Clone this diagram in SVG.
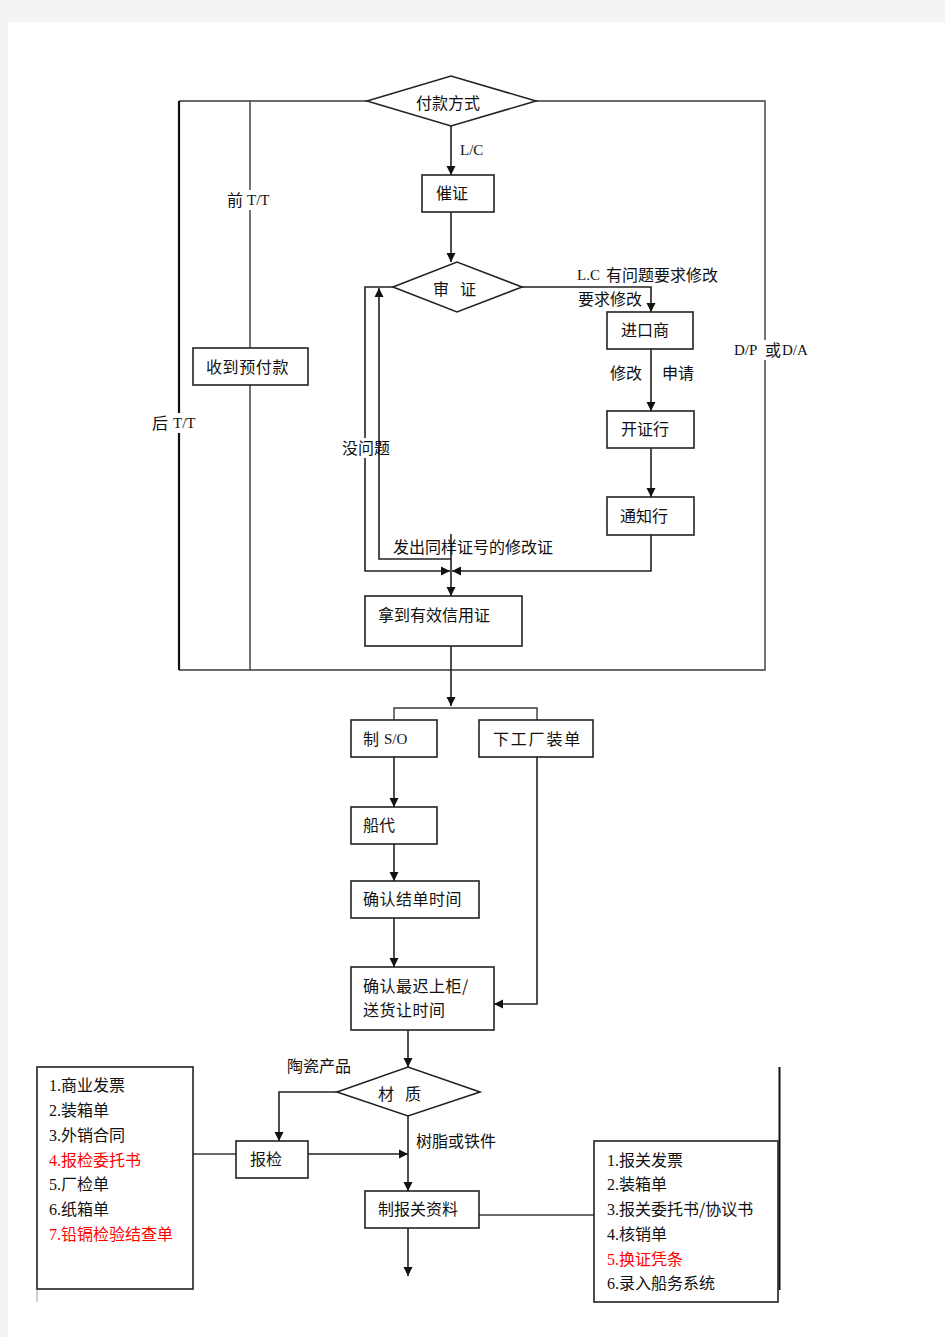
<svg xmlns="http://www.w3.org/2000/svg" width="945" height="1337" viewBox="0 0 945 1337">
<defs>
<marker id="arr" viewBox="0 0 10 10" refX="10" refY="5" markerWidth="9" markerHeight="10" markerUnits="userSpaceOnUse" orient="auto">
<path d="M0,0 L10,5 L0,10 z" fill="#111"/>
</marker>
<style>
.ln{fill:none;stroke:#3a3a3a;stroke-width:1.4}
.la{fill:none;stroke:#222;stroke-width:1.6;marker-end:url(#arr)}
.bx{fill:#fff;stroke:#222;stroke-width:1.6}
.t{font-family:"Noto Sans CJK SC","Noto Sans",sans-serif;font-size:16px;fill:#111}
.s{font-family:"Liberation Serif",serif;font-size:15px;fill:#111}
.r{fill:#ff0000}
.bg{fill:#fff}
</style>
</defs>
<rect x="0" y="0" width="945" height="1337" fill="#f3f3f3"/>
<rect x="8" y="22" width="937" height="1315" fill="#fff"/>

<g id="connectors">
<path class="ln" d="M367,101 H179 M179,670 H765 V101 H536"/>
<path d="M179,101 V670" fill="none" stroke="#111" stroke-width="2.2"/>
<path class="ln" d="M250,101 V348 M250,385 V670"/>
<path class="la" d="M451,125 V175"/>
<path class="la" d="M451,212 V262"/>
<path class="la" d="M522,287 H651 V312"/>
<path class="la" d="M651,349 V411"/>
<path class="la" d="M651,448 V497"/>
<path class="la" d="M651,535 V571 H452"/>
<path class="la" d="M393,287 H365 V571 H450"/>
<path class="la" d="M451,534 V596"/>
<path class="la" d="M451,559 H379 V288"/>
<path class="la" d="M451,646 V706"/>
<path class="ln" d="M394,720 V708 H537 V720"/>
<path class="la" d="M394,757 V807"/>
<path class="la" d="M394,844 V881"/>
<path class="la" d="M394,918 V967"/>
<path class="la" d="M537,757 V1004 H494"/>
<path class="la" d="M408,1030 V1067"/>
<path class="la" d="M337,1092 H279 V1141"/>
<path class="la" d="M308,1154 H408"/>
<path class="la" d="M408,1116 V1191"/>
<path class="la" d="M408,1228 V1276"/>
<path class="ln" d="M479,1215 H594"/>
<path class="ln" d="M193,1154 H236"/>
<path d="M37,1289 V1302" stroke="#bbb" stroke-width="1.4"/>
<path d="M779.5,1067 V1290" stroke="#111" stroke-width="2"/>
</g>

<g id="labels">
<rect class="bg" x="226" y="190" width="44" height="20"/>
<text class="t" x="227" y="206">前</text><text class="s" x="247" y="205">T/T</text>
<rect class="bg" x="150" y="413" width="44" height="20"/>
<text class="t" x="152" y="429">后</text><text class="s" x="173" y="428">T/T</text>
<rect class="bg" x="733" y="340" width="76" height="20"/>
<text class="s" x="734" y="355">D/P</text><text class="t" x="765" y="356">或</text><text class="s" x="782" y="355">D/A</text>
<text class="s" x="460" y="155">L/C</text>
<text class="s" x="577" y="280">L.C</text><text class="t" x="606" y="281">有问题要求修改</text>
<text class="t" x="578" y="305">要求修改</text>
<text class="t" x="610" y="379">修改</text>
<text class="t" x="662" y="379">申请</text>
<rect class="bg" x="341" y="438" width="31" height="20"/>
<text class="t" x="342" y="454">没问题</text>
<text class="t" x="393" y="553">发出同样证号的修改证</text>
<text class="t" x="287" y="1072">陶瓷产品</text>
<text class="t" x="416" y="1147">树脂或铁件</text>
</g>

<g id="n-fukuan">
<path class="bx" d="M367,101 L451,76 L536,101 L451,126 z"/>
<text class="t" x="416" y="109">付款方式</text>
</g>
<g id="n-cuizheng">
<rect class="bx" x="422" y="175" width="72" height="37"/>
<text class="t" x="436" y="199">催证</text>
</g>
<g id="n-shenzheng">
<path class="bx" d="M393,287 L457,262 L522,287 L457,312 z"/>
<text class="t" x="433" y="295">审</text><text class="t" x="460" y="295">证</text>
</g>
<g id="n-jinkoushang">
<rect class="bx" x="607" y="312" width="86" height="37"/>
<text class="t" x="621" y="336">进口商</text>
</g>
<g id="n-kaizhenghang">
<rect class="bx" x="607" y="411" width="87" height="37"/>
<text class="t" x="621" y="435">开证行</text>
</g>
<g id="n-tongzhihang">
<rect class="bx" x="607" y="497" width="87" height="38"/>
<text class="t" x="620" y="522">通知行</text>
</g>
<g id="n-yufukuan">
<rect class="bx" x="193" y="348" width="115" height="37"/>
<text class="t" x="206" y="373" style="letter-spacing:0.6px">收到预付款</text>
</g>
<g id="n-youxiao">
<rect class="bx" x="365" y="596" width="157" height="50"/>
<text class="t" x="378" y="621">拿到有效信用证</text>
</g>
<g id="n-zhiso">
<rect class="bx" x="351" y="720" width="86" height="37"/>
<text class="t" x="363" y="745">制</text><text class="s" x="384" y="744">S/O</text>
</g>
<g id="n-xiagongchang">
<rect class="bx" x="479" y="720" width="114" height="37"/>
<text class="t" x="493" y="745" style="letter-spacing:1.8px">下工厂装单</text>
</g>
<g id="n-chuandai">
<rect class="bx" x="351" y="807" width="86" height="37"/>
<text class="t" x="363" y="831">船代</text>
</g>
<g id="n-jiedan">
<rect class="bx" x="351" y="881" width="128" height="37"/>
<text class="t" x="363" y="905" style="letter-spacing:0.5px">确认结单时间</text>
</g>
<g id="n-shanggui">
<rect class="bx" x="351" y="967" width="143" height="63"/>
<text class="t" x="363" y="992" style="letter-spacing:0.5px">确认最迟上柜/</text>
<text class="t" x="363" y="1016" style="letter-spacing:0.5px">送货让时间</text>
</g>
<g id="n-caizhi">
<path class="bx" d="M337,1092 L408,1067 L480,1092 L408,1116 z"/>
<text class="t" x="378" y="1100">材</text><text class="t" x="405" y="1100">质</text>
</g>
<g id="n-baojian">
<rect class="bx" x="236" y="1141" width="72" height="37"/>
<text class="t" x="250" y="1165">报检</text>
</g>
<g id="n-baoguan">
<rect class="bx" x="365" y="1191" width="114" height="37"/>
<text class="t" x="378" y="1215">制报关资料</text>
</g>
<g id="n-leftlist">
<rect class="bx" x="37" y="1067" width="156" height="222"/>
<text x="49" y="1091"><tspan class="s" style="font-size:16px">1.</tspan><tspan class="t">商业发票</tspan></text>
<text x="49" y="1116"><tspan class="s" style="font-size:16px">2.</tspan><tspan class="t">装箱单</tspan></text>
<text x="49" y="1141"><tspan class="s" style="font-size:16px">3.</tspan><tspan class="t">外销合同</tspan></text>
<text x="49" y="1166"><tspan class="s r" style="font-size:16px">4.</tspan><tspan class="t r">报检委托书</tspan></text>
<text x="49" y="1190"><tspan class="s" style="font-size:16px">5.</tspan><tspan class="t">厂检单</tspan></text>
<text x="49" y="1215"><tspan class="s" style="font-size:16px">6.</tspan><tspan class="t">纸箱单</tspan></text>
<text x="49" y="1240"><tspan class="s r" style="font-size:16px">7.</tspan><tspan class="t r">铅镉检验结查单</tspan></text>
</g>
<g id="n-rightlist">
<rect class="bx" x="594" y="1141" width="184" height="161"/>
<text x="607" y="1166"><tspan class="s" style="font-size:16px">1.</tspan><tspan class="t">报关发票</tspan></text>
<text x="607" y="1190"><tspan class="s" style="font-size:16px">2.</tspan><tspan class="t">装箱单</tspan></text>
<text x="607" y="1215"><tspan class="s" style="font-size:16px">3.</tspan><tspan class="t">报关委托书/协议书</tspan></text>
<text x="607" y="1240"><tspan class="s" style="font-size:16px">4.</tspan><tspan class="t">核销单</tspan></text>
<text x="607" y="1265"><tspan class="s r" style="font-size:16px">5.</tspan><tspan class="t r">换证凭条</tspan></text>
<text x="607" y="1289"><tspan class="s" style="font-size:16px">6.</tspan><tspan class="t">录入船务系统</tspan></text>
</g>
</svg>
